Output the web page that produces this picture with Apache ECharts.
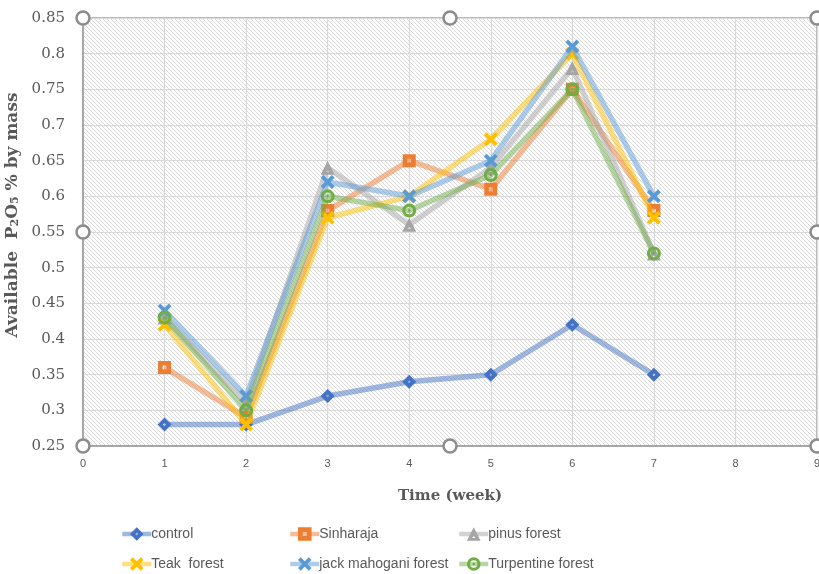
<!DOCTYPE html>
<html><head><meta charset="utf-8">
<script src="https://cdn.jsdelivr.net/npm/echarts@6/dist/echarts.min.js"></script>
<style>html,body{margin:0;padding:0;background:#fff}#c{width:819px;height:574px}</style>
</head><body><div id="c"></div>
<script>
const weeks = [1, 2, 3, 4, 5, 6, 7];
const control    = [0.28, 0.28, 0.32, 0.34, 0.35, 0.42, 0.35];
const sinharaja  = [0.36, 0.29, 0.58, 0.65, 0.61, 0.75, 0.58];
const pinus      = [0.43, 0.31, 0.64, 0.56, 0.64, 0.78, 0.52];
const teak       = [0.42, 0.28, 0.57, 0.60, 0.68, 0.80, 0.57];
const jack       = [0.44, 0.32, 0.62, 0.60, 0.65, 0.81, 0.60];
const turpentine = [0.43, 0.30, 0.60, 0.58, 0.63, 0.75, 0.52];
const seriesNames = ['control', 'Sinharaja', 'pinus forest', 'Teak  forest', 'jack mahogani forest', 'Turpentine forest'];
const xTicks = [0, 1, 2, 3, 4, 5, 6, 7, 8, 9];
const yTicks = [0.25, 0.3, 0.35, 0.4, 0.45, 0.5, 0.55, 0.6, 0.65, 0.7, 0.75, 0.8, 0.85];

// hatch pattern
const pc = document.createElement('canvas');
pc.width = 4; pc.height = 4;
const g = pc.getContext('2d');
g.fillStyle = '#ffffff'; g.fillRect(0, 0, 4, 4);
g.strokeStyle = '#cfcfcf'; g.lineWidth = 0.8;
g.beginPath();
g.moveTo(-1, -1); g.lineTo(5, 5);
g.moveTo(-1, 3); g.lineTo(1, 5);
g.moveTo(3, -1); g.lineTo(5, 1);
g.stroke();

const SYM = {
  diamond: 'path://M0,-10L10,0L0,10L-10,0Z M0,-2.2L-2.2,0L0,2.2L2.2,0Z',
  square: 'path://M-10,-10L10,-10L10,10L-10,10Z M-3,-3L-3,3L3,3L3,-3Z',
  triangle: 'path://M0,-10L10,10L-10,10Z M0,3L-2.5,6L2.5,6Z',
  cross: 'path://M-10,-6L-6,-10L0,-4L6,-10L10,-6L4,0L10,6L6,10L0,4L-6,10L-10,6L-4,0Z',
  ring: 'path://M0,-10A10,10 0 1,1 0,10A10,10 0 1,1 0,-10Z M0,-5.5A5.5,5.5 0 1,0 0,5.5A5.5,5.5 0 1,0 0,-5.5Z M0,-1.8A1.8,1.8 0 1,1 0,1.8A1.8,1.8 0 1,1 0,-1.8Z'
};
const colors = ['#4472C4', '#ED7D31', '#A5A5A5', '#FFC000', '#5B9BD5', '#70AD47'];
const symbols = [SYM.diamond, SYM.square, SYM.triangle, SYM.cross, SYM.cross, SYM.ring];
const sizes = [14, 13, 14, 14, 14, 14];
const datas = [control, sinharaja, pinus, teak, jack, turpentine];

const series = datas.map((d, i) => ({
  name: seriesNames[i],
  type: 'line',
  data: weeks.map((w, k) => [w, d[k]]),
  symbol: symbols[i],
  symbolSize: sizes[i],
  showAllSymbol: true,
  lineStyle: { color: colors[i], width: 5.5, opacity: 0.5 },
  itemStyle: { color: colors[i], opacity: 1 },
  emphasis: { disabled: true },
  animation: false,
  z: 2 + i
}));

const handlePts = [[83, 18], [450, 18], [817, 18], [83, 232], [817, 232], [83, 446], [450, 446], [817, 446]];
const legendCols = [120, 288, 457];
const legendRows = [527, 557];
const legends = seriesNames.map((n, i) => ({
  data: [n],
  left: legendCols[i % 3], top: legendRows[Math.floor(i / 3)],
  padding: 0,
  itemWidth: 29, itemHeight: 17, selectedMode: false,
  lineStyle: { width: 4.5, opacity: 0.5 },
  textStyle: { fontFamily: 'Liberation Sans', fontSize: 14, color: '#595959', padding: [0, 0, 0, -5] }
}));

const chart = echarts.init(document.getElementById('c'), null, { renderer: 'canvas' });
chart.setOption({
  animation: false,
  backgroundColor: '#fff',
  grid: {
    left: 83, right: 2, top: 18, bottom: 128,
    outerBoundsMode: 'none', containLabel: false,
    show: true, backgroundColor: { image: pc, repeat: 'repeat' },
    borderColor: '#a6a6a6', borderWidth: 1.5
  },
  legend: legends,
  xAxis: {
    type: 'value', min: xTicks[0], max: xTicks[xTicks.length - 1], interval: 1,
    name: 'Time (week)', nameLocation: 'middle', nameGap: 43,
    nameTextStyle: { fontFamily: 'DejaVu Serif', fontWeight: 'bold', fontSize: 15, color: '#595959' },
    axisLine: { lineStyle: { color: '#a6a6a6', width: 2 } },
    axisTick: { show: false },
    axisLabel: { fontFamily: 'Liberation Sans', fontSize: 11, color: '#595959', margin: 12 },
    splitLine: { lineStyle: { color: '#d9d9d9', width: 1.2 } }
  },
  yAxis: {
    type: 'value', min: yTicks[0], max: yTicks[yTicks.length - 1], interval: 0.05,
    name: '{a|Available  P}{s|2}{a|O}{s|5}{a| % by mass}',
    nameLocation: 'middle', nameGap: 52, nameRotate: 90,
    nameTextStyle: {
      padding: [12, 0, 0, 34],
      rich: {
        a: { fontFamily: 'DejaVu Serif', fontWeight: 'bold', fontSize: 17, color: '#595959', verticalAlign: 'bottom', lineHeight: 22 },
        s: { fontFamily: 'DejaVu Serif', fontWeight: 'bold', fontSize: 11, color: '#595959', verticalAlign: 'bottom', lineHeight: 15 }
      }
    },
    axisLine: { show: true, lineStyle: { color: '#a6a6a6', width: 2 } },
    axisTick: { show: false },
    axisLabel: {
      fontFamily: 'DejaVu Serif', fontSize: 15, color: '#595959', margin: 18,
      formatter: v => String(+v.toFixed(2))
    },
    splitLine: { lineStyle: { color: '#d9d9d9', width: 1.2 } }
  },
  series: series,
  graphic: handlePts.map(p => ({
    type: 'circle', shape: { cx: p[0], cy: p[1], r: 6.5 },
    style: { fill: '#fff', stroke: '#8c8c8c', lineWidth: 2.5 }, z: 100
  }))
});
</script>
</body></html>
